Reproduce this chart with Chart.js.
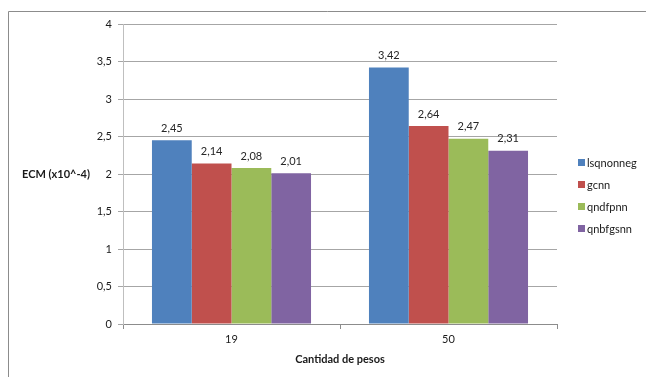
<!DOCTYPE html>
<html>
<head>
<meta charset="utf-8">
<script src="https://cdn.jsdelivr.net/npm/chart.js@4.4.1/dist/chart.umd.min.js"></script>
<style>
  html, body { margin: 0; padding: 0; background: #ffffff; }
  #wrap { width: 646px; height: 377px; position: relative; }
</style>
</head>
<body>
<div id="wrap"><canvas id="c" width="646" height="377"></canvas></div>
<script>
// Categories (number of weights) and the error of each solver
const categories = ['19', '50'];
const seriesNames = ['lsqnonneg', 'gcnn', 'qndfpnn', 'qnbfgsnn'];
const lsqnonneg = [2.45, 3.42];
const gcnn = [2.14, 2.64];
const qndfpnn = [2.08, 2.47];
const qnbfgsnn = [2.01, 2.31];
const yTicks = [0, 0.5, 1, 1.5, 2, 2.5, 3, 3.5, 4];
const colors = ['#4F81BD', '#C0504D', '#9BBB59', '#8064A2'];

const FONT = 'Lato, "Liberation Sans", sans-serif';
const fmt = v => String(v).replace('.', ',');

const values = [lsqnonneg, gcnn, qndfpnn, qnbfgsnn];
const datasets = seriesNames.map((name, i) => ({
  label: name,
  data: values[i],
  backgroundColor: colors[i],
  borderWidth: 0,
  categoryPercentage: 0.733,
  barPercentage: 1.0
}));

// Frame, axis titles, value labels and legend
const decorations = {
  id: 'decorations',
  beforeDraw(chart) {
    const ctx = chart.ctx;
    ctx.save();
    ctx.fillStyle = '#ffffff';
    ctx.fillRect(0, 0, chart.width, chart.height);
    ctx.strokeStyle = '#8c8c8c';
    ctx.lineWidth = 1;
    ctx.beginPath();
    ctx.moveTo(8.5, chart.height);
    ctx.lineTo(8.5, 11.5);
    ctx.lineTo(chart.width, 11.5);
    ctx.stroke();
    ctx.restore();
  },
  afterDraw(chart) {
    const ctx = chart.ctx;
    const area = chart.chartArea;
    ctx.save();
    ctx.fillStyle = '#1a1a1a';
    // y-axis title (horizontal)
    ctx.font = 'bold 11px ' + FONT;
    ctx.textAlign = 'center';
    ctx.textBaseline = 'middle';
    ctx.fillText('ECM (x10^-4)', 56, (area.top + area.bottom) / 2);
    // x-axis title
    ctx.fillText('Cantidad de pesos', (area.left + area.right) / 2, 359);
    // value labels above the bars
    ctx.font = '11px ' + FONT;
    ctx.fillStyle = '#262626';
    chart.data.datasets.forEach((ds, di) => {
      const meta = chart.getDatasetMeta(di);
      meta.data.forEach((bar, i) => {
        ctx.fillText(fmt(ds.data[i]), bar.x, bar.y - 12);
      });
    });
    // legend
    const lx = 578, ly0 = 163, step = 22;
    ctx.textAlign = 'left';
    chart.data.datasets.forEach((ds, di) => {
      const y = ly0 + di * step;
      ctx.fillStyle = ds.backgroundColor;
      ctx.fillRect(lx, y - 4, 7, 7);
      ctx.fillStyle = '#1a1a1a';
      ctx.fillText(ds.label, lx + 9, y);
    });
    ctx.restore();
  }
};

new Chart(document.getElementById('c'), {
  type: 'bar',
  data: { labels: categories, datasets },
  options: {
    responsive: false,
    animation: false,
    layout: { padding: { left: 0, right: 89, top: 24, bottom: 0 } },
    plugins: { legend: { display: false }, tooltip: { enabled: false } },
    scales: {
      x: {
        offset: true,
        grid: {
          display: true,
          drawOnChartArea: false,
          drawTicks: true,
          tickLength: 5,
          color: '#8c8c8c'
        },
        border: { display: true, color: '#8c8c8c', width: 1 },
        ticks: { color: '#1a1a1a', font: { family: FONT, size: 11 }, padding: 4 },
        afterFit(scale) { scale.height = 53; }
      },
      y: {
        min: 0,
        max: 4,
        afterBuildTicks(scale) { scale.ticks = yTicks.map(v => ({ value: v })); },
        grid: { color: '#a6a6a6', tickLength: 5, drawTicks: true },
        border: { display: true, color: '#bfbfbf', width: 1 },
        ticks: {
          color: '#1a1a1a',
          font: { family: FONT, size: 11 },
          padding: 6,
          callback: v => fmt(v)
        },
        afterFit(scale) { scale.width = 123; }
      }
    }
  },
  plugins: [decorations]
});
</script>
</body>
</html>
